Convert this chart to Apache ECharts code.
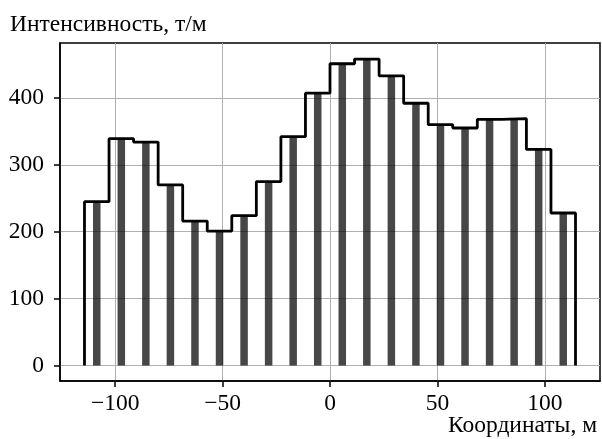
<!DOCTYPE html>
<html>
<head>
<meta charset="utf-8">
<script src="https://cdn.jsdelivr.net/npm/echarts@6/dist/echarts.min.js"></script>
<style>
  html, body { margin: 0; padding: 0; background: #fff; }
  #chart { width: 602px; height: 439px; }
</style>
</head>
<body>
<div id="chart"></div>
<script>
// границы интервалов, м
const binStart = -114.3
const binWidth = 11.43
// интенсивность по интервалам, т/м
const intensity = [245, 339, 334, 270, 216, 201, 224, 275, 342, 407,
  451, 458, 433, 392, 360, 355, 368, 369, 323, 228]
const xTicks = [-100, -50, 0, 50, 100]
const yTicks = [0, 100, 200, 300, 400]

const edges = []
for (let i = 0; i <= intensity.length; i++) edges.push(binStart + i * binWidth)

const barData = intensity.map((v, i) => [(edges[i] + edges[i + 1]) / 2, v])

// ступенчатый контур гистограммы
const stepData = [[edges[0], 0]]
intensity.forEach((v, i) => {
  stepData.push([edges[i], v])
  stepData.push([edges[i + 1], v])
})
stepData.push([edges[edges.length - 1], 0])

const font = '"Liberation Serif", "Times New Roman", serif'
const fs = 23.5
const minus = v => String(v).replace('-', '\u2212')

const chart = echarts.init(document.getElementById('chart'))
chart.setOption({
  animation: false,
  backgroundColor: '#fff',
  title: [
    {
      text: 'Интенсивность, т/м',
      left: 5,
      top: 8,
      textStyle: { fontFamily: font, fontSize: fs, fontWeight: 'normal', color: '#000' }
    },
    {
      text: 'Координаты, м',
      right: 0,
      bottom: -4,
      textStyle: { fontFamily: font, fontSize: fs, fontWeight: 'normal', color: '#000' }
    }
  ],
  grid: {
    left: 60,
    right: 2,
    top: 43,
    bottom: 58,
    show: true,
    borderColor: '#000',
    borderWidth: 1.5,
    containLabel: false
  },
  xAxis: {
    type: 'value',
    min: -125.7,
    max: 125.7,
    splitNumber: 5,
    axisLine: { show: true, onZero: false, lineStyle: { color: '#000', width: 1.5 } },
    axisTick: { show: true, length: 6, customValues: xTicks, lineStyle: { color: '#000', width: 1.5 } },
    axisLabel: {
      customValues: xTicks,
      margin: 11,
      fontFamily: font,
      fontSize: fs,
      color: '#000',
      formatter: minus
    },
    splitLine: { show: true, lineStyle: { color: '#b0b0b0', width: 1 } }
  },
  yAxis: {
    type: 'value',
    min: -23,
    max: 482,
    splitNumber: 5,
    axisLine: { show: true, onZero: false, lineStyle: { color: '#000', width: 1.5 } },
    axisTick: { show: true, length: 6, customValues: yTicks, lineStyle: { color: '#000', width: 1.5 } },
    axisLabel: {
      customValues: yTicks,
      margin: 16,
      fontFamily: font,
      fontSize: fs,
      color: '#000'
    },
    splitLine: { show: true, lineStyle: { color: '#b0b0b0', width: 1 } }
  },
  series: [
    {
      type: 'bar',
      data: barData,
      barWidth: 7.5,
      itemStyle: { color: 'rgba(0,0,0,0.72)' },
      z: 2
    },
    {
      type: 'line',
      data: stepData,
      symbol: 'none',
      lineStyle: { color: '#000', width: 2.8 },
      z: 3
    }
  ]
})
</script>
</body>
</html>
